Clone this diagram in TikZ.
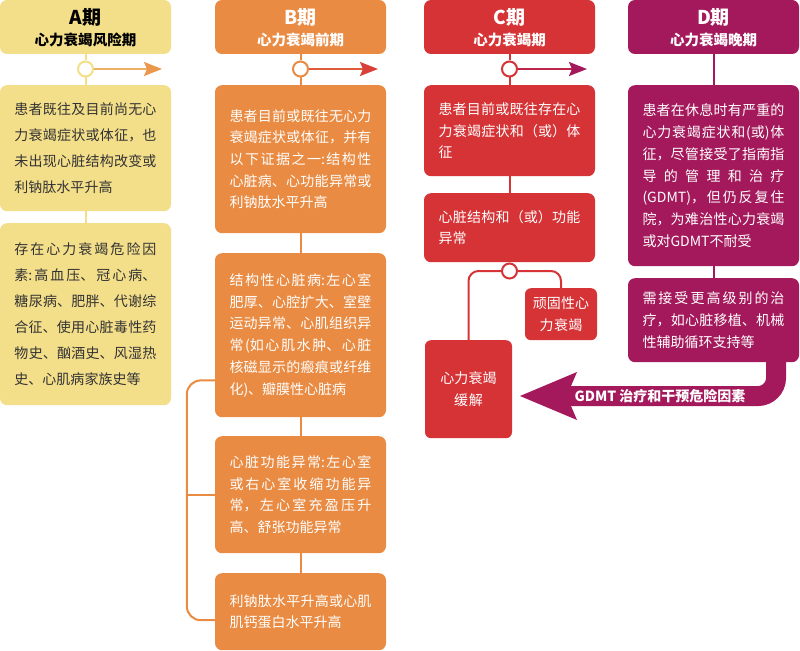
\documentclass[tikz,border=0pt]{standalone}
\usepackage{fontspec}
\setmainfont{Noto Sans CJK SC}
\usetikzlibrary{arrows.meta}
\XeTeXlinebreaklocale "zh"
\XeTeXlinebreakskip=0pt plus 1pt
\tolerance=10000
\hbadness=10000
\definecolor{cA}{HTML}{F3DE8A}
\definecolor{cB}{HTML}{E98B42}
\definecolor{cC}{HTML}{D63336}
\definecolor{cD}{HTML}{A4195B}
\definecolor{txA}{HTML}{333333}
\tikzset{
  box/.style={rounded corners=7bp, anchor=north, inner xsep=14.5bp, inner ysep=0pt,
    text width=142bp, align=justify, text=white,
    font=\fontsize{14bp}{21.7bp}\selectfont},
  boxA/.style={box, fill=cA, text=txA,
    font=\fontsize{14bp}{26bp}\selectfont},
  smallbox/.style={rounded corners=6bp, anchor=north, inner ysep=0pt, align=center, text=white, fill=cC,
    font=\fontsize{14bp}{22.5bp}\selectfont},
  hdr/.style={rounded corners=7bp, minimum width=171bp, minimum height=54bp, inner sep=0pt},
  hdtitle/.style={font=\fontsize{19bp}{19bp}\selectfont\bfseries, inner sep=0pt},
  hdsub/.style={font=\fontsize{14.5bp}{14.5bp}\selectfont\bfseries, inner sep=0pt},
  dot/.style={circle, fill=white, line width=2bp, minimum size=15bp, inner sep=0pt},
  conn/.style={line width=2bp},
}
\begin{document}
\begin{tikzpicture}[x=1bp, y=-1bp]
\useasboundingbox (0,0) rectangle (800,651);

% ---------- Headers ----------
\node[hdr, fill=cA] (hA) at (85.5,27) {};
\node[hdtitle, text=black] (hAt) at (85.5,17) {A期};
\node[hdsub, text=black] (hAs) at (85.5,40) {心力衰竭风险期};

\node[hdr, fill=cB] (hB) at (300.5,27) {};
\node[hdtitle, text=white] (hBt) at (300.5,17) {B期};
\node[hdsub, text=white] (hBs) at (300.5,40) {心力衰竭前期};

\node[hdr, fill=cC] (hC) at (509.5,27) {};
\node[hdtitle, text=white] (hCt) at (509.5,17) {C期};
\node[hdsub, text=white] (hCs) at (509.5,40) {心力衰竭期};

\node[hdr, fill=cD] (hD) at (713.5,27) {};
\node[hdtitle, text=white] (hDt) at (713.5,17) {D期};
\node[hdsub, text=white] (hDs) at (713.5,40) {心力衰竭晚期};

% ---------- Circles ----------
\node[dot, draw=cA] (oA) at (85.5,69) {};
\node[dot, draw=cB] (oB) at (300.5,69) {};
\node[dot, draw=cC] (oC) at (509.5,69) {};

\coordinate (eA) at (162,69);
\coordinate (eB) at (378,69);
\coordinate (eC) at (587,69);

% ---------- Column A ----------
\node[boxA, minimum height=126bp] (A1) at (85.5,85)
 {患者既往及目前尚无心\linebreak 力衰竭症状或体征，也\linebreak 未出现心脏结构改变或\linebreak 利钠肽水平升高};
\node[boxA, minimum height=182bp] (A2) at (85.5,223)
 {存在心力衰竭危险因\linebreak 素:高血压、冠心病、\linebreak 糖尿病、肥胖、代谢综\linebreak 合征、使用心脏毒性药\linebreak 物史、酗酒史、风湿热\linebreak 史、心肌病家族史等};

% ---------- Column B ----------
\node[box, fill=cB, minimum height=148bp] (B1) at (300.5,85)
 {患者目前或既往无心力\linebreak 衰竭症状或体征，并有\linebreak 以下证据之一:结构性\linebreak 心脏病、心功能异常或\linebreak 利钠肽水平升高};
\node[box, fill=cB, minimum height=164bp] (B2) at (300.5,253)
 {结构性心脏病:左心室\linebreak 肥厚、心腔扩大、室壁\linebreak 运动异常、心肌组织异\linebreak 常(如心肌水肿、心脏\linebreak 核磁显示的瘢痕或纤维\linebreak 化)、瓣膜性心脏病};
\node[box, fill=cB, minimum height=117bp] (B3) at (300.5,436)
 {心脏功能异常:左心室\linebreak 或右心室收缩功能异\linebreak 常，左心室充盈压升\linebreak 高、舒张功能异常};
\node[box, fill=cB, minimum height=77bp] (B4) at (300.5,573)
 {利钠肽水平升高或心肌\linebreak 肌钙蛋白水平升高};

% ---------- Column C ----------
\node[box, fill=cC, minimum height=91bp] (C1) at (509.5,85)
 {患者目前或既往存在心\linebreak 力衰竭症状和（或）体\linebreak 征};
\node[box, fill=cC, minimum height=69bp] (C2) at (509.5,193)
 {心脏结构和（或）功能\linebreak 异常};
\node[dot, draw=cC] (oC2) at (509.5,271) {};
\node[smallbox, minimum width=72bp, minimum height=52bp, text width=60bp, inner xsep=6bp] (Ref) at (561,288)
 {顽固性心\\力衰竭};
\node[smallbox, minimum width=87bp, minimum height=98bp, text width=60bp, inner xsep=13.5bp] (Rel) at (468.5,340)
 {心力衰竭\\缓解};

% ---------- Column D ----------
\node[box, fill=cD, minimum height=181bp] (D1) at (713.5,85)
 {患者在休息时有严重的\linebreak 心力衰竭症状和(或)体\linebreak 征，尽管接受了指南指\linebreak 导的管理和治疗\linebreak (GDMT)，但仍反复住\linebreak 院，为难治性心力衰竭\linebreak 或对GDMT不耐受};
\node[box, fill=cD, minimum height=84bp] (D2) at (713.5,278)
 {需接受更高级别的治\linebreak 疗，如心脏移植、机械\linebreak 性辅助循环支持等};

% ---------- Connectors ----------
\draw[conn, cA] (hA.south) -- (oA.north);
\draw[conn, cA] (oA.south) -- (A1.north);
\draw[conn, cA] (A1.south) -- (A2.north);
\draw[conn, cA!45!cB, -{Stealth[length=18bp, width=14bp, inset=3bp, color=cB!85!cA]}] (oA.east) -- (eA);

\draw[conn, cB] (hB.south) -- (oB.north);
\draw[conn, cB] (oB.south) -- (B1.north);
\draw[conn, cB] (B1.south) -- (B2.north);
\draw[conn, cB] (B2.south) -- (B3.north);
\draw[conn, cB] (B3.south) -- (B4.north);
\draw[conn, cB!45!cC, -{Stealth[length=18bp, width=14bp, inset=3bp, color=cC!85!cB]}] (oB.east) -- (eB);
\draw[conn, cB, rounded corners=14bp] ([yshift=37bp]B2.south west) -- ++(-28,0) |- ([yshift=-8.5bp]B4.west);
\draw[conn, cB] (B3.west) -- ++(-28,0);

\draw[conn, cC] (hC.south) -- (oC.north);
\draw[conn, cC] (oC.south) -- (C1.north);
\draw[conn, cC] (C1.south) -- (C2.north);
\draw[conn, cC!45!cD, -{Stealth[length=18bp, width=14bp, inset=3bp, color=cD]}] (oC.east) -- (eC);
\draw[conn, cC, rounded corners=10bp] (oC2.west) -| (Rel.north);
\draw[conn, cC, rounded corners=10bp] (oC2.east) -| (Ref.north);

\draw[conn, cD] (hD.south) -- (D1.north);
\draw[conn, cD] (D1.south) -- (D2.north);

% ---------- Big return arrow ----------
\coordinate (gS) at ([xshift=62.5bp]D2.south);
\coordinate (gE) at (570,396);
\draw[line width=20bp, cD, rounded corners=18bp] ([yshift=2bp]gS) |- (gE);
\fill[cD] (520,396) -- (577,372) -- (571,386) -- (571,406) -- (577,420) -- cycle;
\node[font=\fontsize{14bp}{14bp}\selectfont\bfseries, text=white, inner sep=0pt] (gL) at (660,396.5) {GDMT 治疗和干预危险因素};

\end{tikzpicture}
\end{document}
